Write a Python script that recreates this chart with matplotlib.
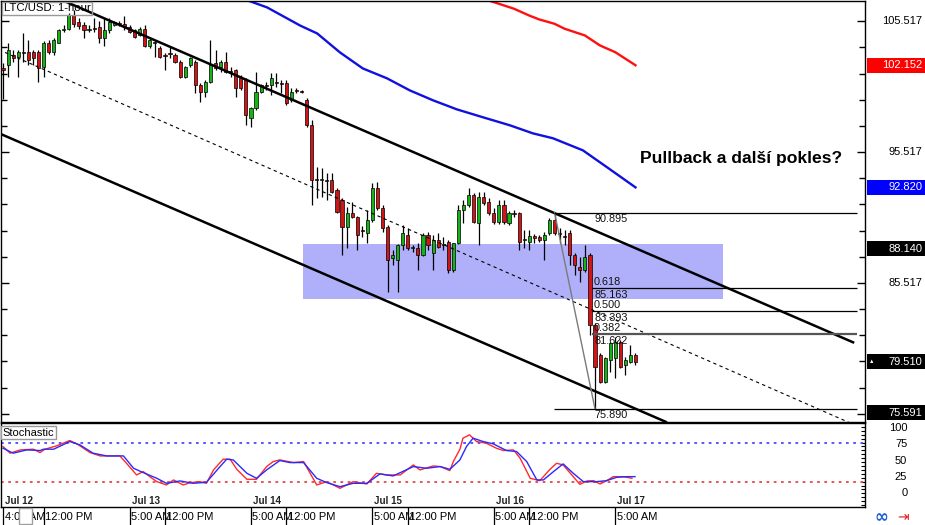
import numpy as np
import matplotlib
matplotlib.use('Agg')
import matplotlib.pyplot as plt
from matplotlib.patches import Rectangle
from matplotlib.ticker import FixedLocator, MultipleLocator

plt.rcParams['font.family'] = ['Liberation Sans', 'DejaVu Sans']

# ---- LTC/USD hodinove svicky (Jul 12 4:00 AM = 0) ----
opens = [101.91, 102.14, 102.90, 102.82, 103.13, 103.13, 103.13, 103.13, 101.99, 103.89,
         103.13, 103.89, 104.81, 104.96, 106.03, 105.42, 105.19, 104.81, 104.96, 105.04,
         104.20, 104.81, 105.19, 105.34, 105.34, 105.04, 104.81, 104.43, 104.96, 103.66,
         103.89, 103.44, 102.90, 103.05, 102.90, 102.37, 101.22, 102.14, 102.37, 100.61,
         100.08, 100.84, 102.29, 101.99, 102.37, 101.60, 101.76, 101.22, 100.99, 98.09,
         98.86, 100.08, 100.61, 100.61, 100.84, 100.76, 100.76, 99.47, 100.23, 100.15,
         99.47, 97.56, 93.43, 93.36, 93.36, 93.36, 92.60, 91.83, 89.77, 90.84,
         90.53, 89.54, 89.31, 90.31, 92.75, 91.22, 89.77, 87.40, 87.25, 88.40,
         89.16, 88.17, 88.17, 87.63, 89.16, 87.79, 88.78, 88.40, 88.63, 86.49,
         88.55, 91.07, 91.45, 92.21, 90.08, 92.06, 91.68, 90.84, 90.15, 91.45,
         90.08, 90.84, 90.84, 88.78, 88.63, 89.08, 89.01, 88.78, 89.31, 90.31,
         89.31, 89.08, 89.31, 87.63, 86.72, 86.49, 87.63, 82.29, 80.00, 77.94,
         79.62, 79.77, 80.99, 79.24, 79.47, 80.00]
highs = [102.29, 103.89, 103.28, 103.28, 104.58, 104.05, 103.28, 103.28, 103.97, 104.05,
         104.20, 104.96, 105.19, 106.18, 106.34, 105.73, 105.42, 105.19, 105.73, 105.57,
         105.73, 105.73, 105.57, 105.50, 105.95, 105.19, 104.96, 105.04, 105.19, 104.20,
         104.05, 103.59, 103.05, 103.66, 103.05, 102.52, 102.06, 102.75, 102.52, 100.76,
         100.99, 104.05, 103.28, 102.52, 103.13, 101.99, 101.83, 101.37, 101.15, 98.93,
         101.60, 100.69, 100.84, 101.53, 101.53, 100.99, 100.99, 100.38, 100.38, 100.23,
         99.62, 97.94, 94.35, 94.28, 93.89, 93.89, 92.75, 91.98, 91.30, 91.68,
         90.61, 89.85, 91.07, 93.13, 93.21, 91.45, 89.92, 88.02, 88.47, 89.92,
         89.69, 88.40, 88.55, 89.31, 89.39, 89.16, 89.31, 89.01, 88.78, 88.55,
         91.45, 91.83, 92.75, 92.37, 92.44, 92.44, 91.98, 91.22, 91.83, 91.83,
         90.99, 91.07, 90.92, 89.54, 89.54, 89.24, 89.16, 89.39, 90.46, 90.895,
         89.69, 89.54, 89.54, 87.79, 87.48, 88.40, 87.79, 82.44, 80.15, 79.85,
         80.99, 81.37, 81.14, 79.85, 80.76, 80.15]
lows = [99.54, 101.22, 102.37, 101.22, 102.37, 102.14, 102.14, 100.84, 101.22, 102.98,
        102.90, 103.89, 104.66, 104.81, 105.04, 104.96, 104.20, 104.66, 104.66, 103.89,
        103.66, 104.58, 105.12, 105.12, 104.81, 104.58, 104.20, 104.35, 103.51, 103.44,
        102.75, 102.67, 101.76, 102.67, 102.29, 101.15, 101.15, 101.99, 100.00, 99.31,
        99.70, 100.76, 101.76, 101.60, 101.53, 101.22, 99.70, 100.23, 97.56, 97.40,
        98.70, 100.00, 100.23, 99.85, 100.46, 100.00, 99.08, 99.31, 100.00, 100.00,
        97.40, 91.45, 91.98, 92.06, 91.83, 92.37, 90.84, 87.63, 88.17, 90.46,
        88.02, 89.01, 88.55, 90.15, 91.07, 89.39, 84.81, 86.87, 84.81, 88.02,
        88.02, 87.86, 86.49, 87.56, 88.02, 86.49, 88.17, 88.02, 86.26, 86.34,
        88.47, 90.08, 91.30, 90.08, 88.40, 91.45, 90.69, 90.00, 90.00, 90.00,
        89.92, 90.53, 88.02, 88.17, 88.02, 88.55, 88.63, 87.25, 89.16, 89.16,
        88.55, 88.40, 86.87, 86.11, 85.57, 86.34, 81.53, 75.89, 77.86, 77.86,
        78.70, 78.24, 79.01, 78.47, 79.39, 79.24]
closes = [101.76, 103.28, 102.67, 103.13, 103.05, 102.52, 102.67, 101.91, 103.89, 103.13,
          104.05, 104.81, 104.89, 106.03, 105.27, 105.12, 104.81, 104.96, 104.92, 104.20,
          104.81, 105.42, 105.42, 105.30, 105.04, 104.66, 104.28, 104.96, 103.66, 104.05,
          103.85, 102.75, 102.86, 102.98, 102.37, 101.22, 101.99, 102.67, 100.61, 100.08,
          100.84, 102.14, 101.91, 102.37, 101.60, 101.68, 100.38, 100.38, 98.32, 98.86,
          100.08, 100.61, 100.57, 101.15, 100.76, 100.69, 99.24, 100.08, 100.15, 100.08,
          97.56, 93.36, 93.36, 93.43, 93.30, 92.44, 90.92, 89.77, 90.84, 90.53,
          89.16, 89.47, 90.31, 92.75, 91.22, 89.69, 87.25, 87.63, 88.40, 89.31,
          88.17, 88.24, 87.63, 89.16, 88.40, 88.78, 88.24, 88.47, 86.49, 88.55,
          91.07, 91.45, 92.21, 90.15, 92.06, 91.60, 90.84, 90.15, 91.45, 90.15,
          90.84, 90.76, 88.63, 88.86, 89.08, 88.93, 88.78, 89.16, 90.31, 89.31,
          89.24, 89.01, 87.63, 86.87, 86.49, 87.48, 82.29, 79.08, 77.94, 79.77,
          80.92, 80.99, 79.08, 79.62, 80.00, 79.51]

# klouzave prumery
ma_red_h = [94, 96, 98, 101, 104, 106, 109, 111, 115, 118, 121, 125]
ma_red_v = [107.31, 107.10, 106.85, 106.47, 105.95, 105.65, 105.32, 104.94, 104.43, 103.66, 103.15, 102.152]
ma_blue_h = [46, 48.4, 52.2, 58.7, 62.1, 66.6, 71.1, 75.9, 80.4, 85.0, 89.7, 94.9, 100.2, 104.7, 108.7, 114.6, 119.4, 125]
ma_blue_v = [107.4, 107.1, 106.57, 105.19, 104.58, 103.13, 101.91, 101.15, 100.23, 99.47, 98.78, 98.17,
             97.56, 96.95, 96.57, 95.65, 94.35, 92.82]

# kanal
chan_up_h, chan_up_p = [10, 168], [107.41, 80.98]
chan_lo_h, chan_lo_p = [-1, 131], [96.99, 74.90]
chan_mid_h, chan_mid_p = [0.4, 168], [103.13, 74.72]

# zona (obdelnik)
zone_h = [59.3, 142.3]
zone_p = [84.28, 88.53]

# Fibonacci
fib_hi_h, fib_hi = 109, 90.895
fib_lo_h, fib_lo = 117, 75.890
fib_ratios = [0.618, 0.500, 0.382]
fib_end_h = 168.7
fib_lvl_start_h = 116.4

# cenove stitky vpravo
axis_labels = [105.517, 95.517, 85.517]
price_tags = [(102.152, '#ff0000'), (92.820, '#0000ff'), (88.140, 'black'),
              (79.510, 'black'), (75.591, 'black')]

# stochastic
stoch_k_h = [0, 1.4, 3.4, 6.0, 7.3, 8.3, 10.6, 13.2, 14.6, 17.2, 19.2, 23.1, 24.4, 26.4, 27.7, 29.0, 30.4,
             32.3, 33.7, 35.6, 37.0, 38.9, 40.2, 41.6, 43.5, 44.9, 46.2, 48.2, 50.1, 52.1, 53.4, 54.7,
             57.4, 59.4, 62.0, 64.0, 66.6, 69.2, 71.9, 73.8, 75.8, 78.5, 81.1, 82.4, 85.0, 86.4, 88.3,
             89.0, 90.3, 90.9, 92.2, 93.6, 95.5, 97.5, 98.9, 100.9, 102.2, 104.2, 106.1, 108.1, 109.4,
             110.7, 112.7, 114.0, 115.4, 116.7, 118.0, 119.3, 120.6, 122.6, 124.3]
stoch_k_v = [69.9, 61.4, 65.6, 66.5, 62.2, 66.5, 70.8, 77.6, 73.3, 62.2, 57.9, 57.9, 48.5, 33.6, 37.9, 31.4, 25.0,
             20.8, 27.2, 20.8, 23.7, 25.0, 22.9, 40.0, 53.7, 53.7, 40.8, 28.0, 28.0, 44.3, 50.7, 52.8,
             49.4, 50.7, 20.8, 25.0, 16.5, 25.0, 22.0, 35.7, 33.6, 33.6, 46.4, 40.0, 45.1, 44.3, 39.1,
             50.7, 66.5, 80.6, 84.9, 76.3, 74.2, 67.8, 64.8, 65.6, 54.9, 29.3, 26.3, 40.8, 48.5,
             46.4, 31.4, 21.6, 25.9, 26.3, 22.0, 26.3, 31.4, 31.4, 29.3]
stoch_d_h = [0, 2.0, 4.7, 7.3, 8.0, 10.0, 13.2, 15.2, 17.8, 20.5, 23.8, 25.8, 27.7, 30.4, 32.3, 35.0, 37.6,
             40.2, 42.9, 44.2, 45.5, 48.2, 50.1, 52.1, 54.7, 56.7, 59.4, 62.0, 64.0, 66.6, 69.2, 71.9,
             74.5, 77.1, 81.1, 83.7, 86.4, 88.3, 90.3, 91.6, 92.9, 94.9, 96.9, 99.5, 101.5, 103.5,
             105.5, 106.8, 108.8, 110.7, 112.7, 114.7, 117.3, 119.3, 121.3, 123.3, 124.9]
stoch_d_v = [67.8, 61.4, 65.6, 64.8, 66.5, 66.5, 76.3, 72.0, 61.4, 57.9, 57.9, 42.1, 36.6, 29.3, 22.9, 25.9, 22.9,
             24.2, 44.3, 53.7, 52.8, 35.7, 29.3, 40.0, 52.0, 49.4, 49.4, 29.3, 23.7, 18.6, 22.9, 22.9,
             34.9, 32.3, 44.3, 42.1, 44.3, 40.8, 52.8, 69.9, 80.6, 76.3, 73.3, 64.8, 63.5, 50.7,
             27.2, 27.2, 37.9, 47.7, 35.7, 25.0, 25.0, 26.3, 30.6, 31.4, 31.4]
stoch_levels = [75, 25]

# casova osa
time_h = [0, 8, 25, 32, 49, 56, 73, 80, 97, 104, 121]
time_lab = ['4:00 AM', '12:00 PM', '5:00 AM', '12:00 PM', '5:00 AM', '12:00 PM',
            '5:00 AM', '12:00 PM', '5:00 AM', '12:00 PM', '5:00 AM']
date_h = [0, 25, 49, 73, 97, 121]
date_lab = ['Jul 12', 'Jul 13', 'Jul 14', 'Jul 15', 'Jul 16', 'Jul 17']

#*********** graf **********
W, H = 925, 525
fig = plt.figure(figsize=(W / 100, H / 100), dpi=100)
fig.patch.set_facecolor('white')

XL = (-0.4, 170.36)
ax = fig.add_axes([1 / W, 103 / H, 864 / W, 421.5 / H])
ax.set_xlim(*XL)
ax.set_ylim(74.89, 107.10)
ax.set_xticks([])
ax.yaxis.set_major_locator(FixedLocator(np.arange(75.517, 107, 10)))
ax.yaxis.set_minor_locator(FixedLocator(np.arange(75.517, 107, 2)))
ax.tick_params(axis='y', which='major', direction='in', length=6, width=1,
               left=True, right=True, labelleft=False, labelright=False)
ax.tick_params(axis='y', which='minor', direction='in', length=4, width=1, left=True, right=True)
for s in ax.spines.values():
    s.set_linewidth(1)

# zona
ax.add_patch(Rectangle((zone_h[0], zone_p[0]), zone_h[1] - zone_h[0], zone_p[1] - zone_p[0],
                       facecolor='#b0b0fa', edgecolor='none', zorder=1))

# prumery
ax.plot(ma_red_h, ma_red_v, color='#ff1010', lw=1.7, zorder=2)
ax.plot(ma_blue_h, ma_blue_v, color='#1010e0', lw=1.7, zorder=2)

# svicky
o, hi, lo, c = map(np.array, (opens, highs, lows, closes))
idx = np.arange(len(o))
up = c >= o
bb = np.minimum(o, c)
bh = np.maximum(np.abs(c - o), 0.08)
ax.vlines(idx, lo, hi, color='black', lw=0.9, zorder=3)
ax.bar(idx[up], bh[up], bottom=bb[up], width=0.62, color='#14b414', edgecolor='black', lw=0.5, zorder=4)
ax.bar(idx[~up], bh[~up], bottom=bb[~up], width=0.62, color='#d41414', edgecolor='black', lw=0.5, zorder=4)

# kanal
ax.plot(chan_up_h, chan_up_p, color='black', lw=1.8, zorder=5)
ax.plot(chan_lo_h, chan_lo_p, color='black', lw=1.8, zorder=5)
ax.plot(chan_mid_h, chan_mid_p, color='black', lw=0.8, dashes=(3, 3), zorder=5)

# Fibonacci
rng = fib_hi - fib_lo
ax.plot([fib_hi_h, fib_lo_h], [fib_hi, fib_lo], color='#7a7a7a', lw=1, zorder=5)
ax.hlines([fib_hi, fib_lo], fib_hi_h - 0.2, fib_end_h, color='black', lw=0.9, zorder=5)
fkw = dict(fontsize=7.8, color='#111111', zorder=6)
ax.text(fib_lvl_start_h + 0.4, fib_hi - 0.12, f'{fib_hi:.3f}', va='top', **fkw)
ax.text(fib_lvl_start_h + 0.4, fib_lo - 0.12, f'{fib_lo:.3f}', va='top', **fkw)
for r in fib_ratios:
    lv = fib_lo + r * rng
    ax.hlines(lv, fib_lvl_start_h, fib_end_h, color='#555555' if r == 0.382 else 'black',
              lw=1.6 if r == 0.382 else 0.9, zorder=5)
    ax.text(fib_lvl_start_h + 0.4, lv + 0.05, f'{r:.3f}', va='bottom', **fkw)
    ax.text(fib_lvl_start_h + 0.4, lv - 0.15, f'{lv + 1e-6:.3f}', va='top', **fkw)

ax.text(125.9, 95.04, 'Pullback a další pokles?', fontsize=12.6, fontweight='bold',
        ha='left', va='center', zorder=7)
ax.text(0.003, 0.993, 'LTC/USD: 1-hour', transform=ax.transAxes, fontsize=8.2, va='top', ha='left',
        zorder=7, bbox=dict(boxstyle='square,pad=0.15', facecolor='none', edgecolor='#9a9a9a', lw=1))

# cenova osa vpravo
axp = fig.add_axes([866 / W, 103 / H, 59 / W, 421.5 / H])
axp.set_xlim(0, 1)
axp.set_ylim(ax.get_ylim())
axp.axis('off')
for v in axis_labels:
    axp.text(0.95, v, f'{v:.3f}', ha='right', va='center', fontsize=8)
th = 15 / 13.1
for v, col in price_tags:
    axp.add_patch(Rectangle((0.02, v - th / 2), 0.98, th, facecolor=col, edgecolor='none'))
    axp.text(0.95, v, f'{v:.3f}', ha='right', va='center', fontsize=8, color='white')
axp.text(0.1, 79.51, '▲', ha='center', va='center', fontsize=4, color='white')

# stochastic
axs = fig.add_axes([1 / W, 18 / H, 864 / W, 84 / H])
axs.set_xlim(*XL)
axs.set_ylim(-7.4, 100)
axs.set_xticks([])
axs.yaxis.set_major_locator(FixedLocator([0, 25, 50, 75, 100]))
axs.yaxis.set_minor_locator(MultipleLocator(5))
axs.tick_params(axis='y', which='both', direction='in', length=3, width=0.8,
                left=False, right=True, labelleft=False, labelright=False)
for s in axs.spines.values():
    s.set_linewidth(1)
axs.axhline(stoch_levels[0], color='#4a4aff', lw=1.3, ls=(0, (1.5, 2.5)))
axs.axhline(stoch_levels[1], color='#e04a4a', lw=1.3, ls=(0, (1.5, 2.5)))
axs.plot(stoch_k_h, stoch_k_v, color='#ff2a2a', lw=1.0)
axs.plot(stoch_d_h, stoch_d_v, color='#2a2aff', lw=1.0)
for dh, dl in zip(date_h, date_lab):
    axs.text(dh + 0.4, 0.3, dl, fontsize=7, fontweight='bold', va='center', ha='left', color='#222222')
axs.text(0.002, 0.885, 'Stochastic', transform=axs.transAxes, fontsize=8, va='center', ha='left',
         bbox=dict(boxstyle='square,pad=0.15', facecolor='white', edgecolor='#9a9a9a', lw=1))

axsl = fig.add_axes([866 / W, 18 / H, 59 / W, 84 / H])
axsl.set_xlim(0, 1)
axsl.set_ylim(-20.9, 107.2)
axsl.axis('off')
for v in [100, 75, 50, 25, 0]:
    axsl.text(0.7, v, str(v), ha='right', va='center', fontsize=8)

# casova osa
axt = fig.add_axes([1 / W, 0, 864 / W, 18 / H])
axt.set_xlim(*XL)
axt.set_ylim(0, 1)
axt.axis('off')
for th_, tl in zip(time_h, time_lab):
    axt.axvline(th_, color='black', lw=0.9)
    axt.text(th_ + 0.3, 0.42, tl, fontsize=8, va='center', ha='left')
fig.patches.append(Rectangle((19 / W, 1 / H), 13 / W, 16 / H, transform=fig.transFigure,
                             facecolor='white', edgecolor='#a0a0a0', lw=1))

fig.text(881 / W, 8 / H, '∞', fontsize=12, color='#1f5fd6', fontweight='bold', ha='center', va='center',
         family=['DejaVu Sans'])
fig.text(903 / W, 8 / H, '⇥', fontsize=10, color='#e02020', ha='center', va='center',
         family=['DejaVu Sans'])

fig.savefig('out.png', dpi=100)
